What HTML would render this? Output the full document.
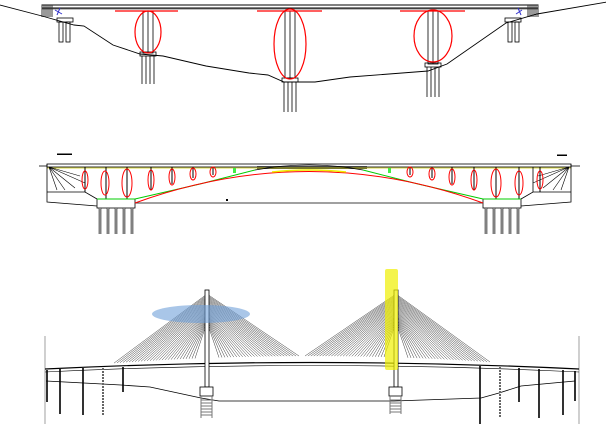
<!DOCTYPE html>
<html><head><meta charset="utf-8"><style>html,body{margin:0;padding:0;background:#fff}svg{display:block}</style></head>
<body>
<svg id="s" width="606" height="431" viewBox="0 0 606 431" xmlns="http://www.w3.org/2000/svg" fill="none" stroke="#000" stroke-width="0.8">
<!-- TOP BRIDGE -->
<g>
<rect x="42" y="5" width="496" height="3" fill="#fff" stroke-width="1"/>
<line x1="42" y1="9" x2="538" y2="9" stroke-width="0.6"/>
<path d="M42 5v12M44 5v12M46 5v12M48 5v12M50 5v12M52 5v12M528 5v12M530 5v12M532 5v12M534 5v12M536 5v12M538 5v12" stroke="#333" stroke-width="1"/>
<rect x="57" y="18" width="16" height="4"/><rect x="505" y="18" width="16" height="4"/>
<rect x="59" y="22" width="4" height="20"/><rect x="66" y="22" width="4" height="20"/>
<rect x="508" y="22" width="4" height="20"/><rect x="515" y="22" width="4" height="20"/>
<path d="M55 10 L62 14 M60 8 L57 15" stroke="#33c" stroke-width="1"/>
<path d="M522 10 L516 14 M518 8 L521 15" stroke="#33c" stroke-width="1"/>
<polyline points="0,5 42,16 74,25 84,26 113,45 140,54 163,56 206,66 249,73 268,75 284,82 315,82 350,77 428,71 447,64 506,23 537,14 607,2" stroke-width="0.9"/>
<rect x="143" y="11" width="10" height="42"/><line x1="148" y1="11" x2="148" y2="53"/>
<rect x="140" y="52" width="16" height="4"/>
<path d="M142 56v28M146 56v28M150 56v28M154 56v28"/>
<rect x="285" y="11" width="10" height="67"/><line x1="290" y1="11" x2="290" y2="78"/>
<rect x="282" y="78" width="16" height="4"/>
<path d="M284 82v30M288 82v30M292 82v30M296 82v30"/>
<rect x="428" y="11" width="10" height="53"/><line x1="433" y1="11" x2="433" y2="64"/>
<rect x="425" y="63" width="16" height="4"/>
<path d="M427 67v30M431 67v30M435 67v30M439 67v30"/>
<g stroke="red" stroke-width="1.2">
<line x1="115" y1="11" x2="178" y2="11"/><line x1="257" y1="11" x2="322" y2="11"/><line x1="400" y1="11" x2="465" y2="11"/>
<ellipse cx="148" cy="32" rx="13" ry="21"/>
<ellipse cx="290" cy="44" rx="16" ry="35"/>
<ellipse cx="433" cy="36" rx="19" ry="26"/>
</g>
</g>
<!-- MIDDLE BRIDGE -->
<g>
<text x="57" y="155" font-family="Liberation Sans, sans-serif" font-size="5" fill="#000" stroke="none" font-weight="bold">▬▬▬</text>
<text x="557" y="156" font-family="Liberation Sans, sans-serif" font-size="5" fill="#000" stroke="none" font-weight="bold">▬▬</text>
<line x1="39" y1="166" x2="47" y2="166"/><line x1="571" y1="166" x2="580" y2="166"/>
<rect x="47" y="164" width="524" height="3" fill="#fff"/>
<rect x="257" y="166" width="110" height="3" fill="#444" stroke="none"/>
<line x1="47" y1="168" x2="571" y2="168" stroke="#cc0" stroke-width="0.8"/>
<path d="M47 164 V202 L97 206 M47 192 H85 L97 199 M85 167 V192"/>
<path d="M571 164 V202 L521 206 M571 192 H533 L521 199 M533 167 V192"/>
<path d="M49 167 L85 183 M49 167 L75 188 M49 167 L65 190 M49 167 L57 190 M49 167 L80 176" stroke-width="0.6"/>
<path d="M569 167 L533 183 M569 167 L543 188 M569 167 L553 190 M569 167 L561 190 M569 167 L538 176" stroke-width="0.6"/>
<rect x="97" y="199" width="38" height="9" fill="#fff"/>
<rect x="483" y="199" width="38" height="9" fill="#fff"/>
<path d="M100 208v26M108 208v26M116 208v26M124 208v26M132 208v26M486 208v26M494 208v26M502 208v26M510 208v26M518 208v26" stroke-width="2.5"/>
<path d="M100 208v26M108 208v26M116 208v26M124 208v26M132 208v26M486 208v26M494 208v26M502 208v26M510 208v26M518 208v26" stroke="#fff" stroke-width="1"/>
<line x1="135" y1="203" x2="483" y2="203"/>
<path d="M85 167V192M106 167V199M127 167V199M151 167V190M172 167V184M193 167V178M213 167V175M410 167V175M432 167V178M452 167V184M474 167V190M496 167V199M519 167V199M540 167V192" stroke-width="1"/>
<polyline points="97,199 135,199 200,184 255,170" stroke="#0c0" stroke-width="1"/>
<polyline points="521,199 483,199 418,184 363,170" stroke="#0c0" stroke-width="1"/>
<path d="M135 203 Q309 140 483 203" stroke="red" stroke-width="1"/>
<path d="M272 172 Q309 168 346 172" stroke="#ee0" stroke-width="1.5"/>
<path d="M255 170 Q309 160 363 170" stroke-width="0.8"/>
<rect x="233" y="168" width="3" height="5" fill="#4e4" stroke="none"/><rect x="388" y="168" width="3" height="5" fill="#4e4" stroke="none"/>
<g stroke="red" stroke-width="1">
<ellipse cx="85" cy="180" rx="3" ry="9"/><ellipse cx="105" cy="183" rx="4" ry="12"/><ellipse cx="127" cy="183" rx="5" ry="14"/>
<ellipse cx="151" cy="180" rx="3" ry="10"/><ellipse cx="172" cy="177" rx="3" ry="8"/><ellipse cx="193" cy="174" rx="3" ry="6"/><ellipse cx="213" cy="172" rx="3" ry="5"/>
<ellipse cx="410" cy="172" rx="3" ry="5"/><ellipse cx="432" cy="174" rx="3" ry="6"/><ellipse cx="452" cy="177" rx="3" ry="8"/><ellipse cx="474" cy="180" rx="3" ry="10"/>
<ellipse cx="496" cy="183" rx="5" ry="14"/><ellipse cx="519" cy="183" rx="4" ry="12"/><ellipse cx="540" cy="180" rx="3" ry="9"/>
</g>
<rect x="226" y="199" width="2" height="2" fill="#000" stroke="none"/>
</g>
<!-- BOTTOM BRIDGE -->
<g>
<line x1="45" y1="336" x2="45" y2="424" stroke="#888"/>
<line x1="579" y1="336" x2="579" y2="424" stroke="#888"/>
<g id="cables" stroke-width="0.45" stroke="#222"></g>
<path d="M45 369 Q310 356 579 369" stroke-width="1.2"/>
<path d="M45 372 Q310 359 579 372" stroke-width="0.6"/>
<polyline points="46,381 121,385 150,387 201,398 219,401 394,401 481,398 499,393 521,386 575,381"/>
<rect x="205" y="290" width="4" height="97" fill="#fff"/>
<rect x="394" y="290" width="4" height="97" fill="#fff"/>
<rect x="200" y="387" width="13" height="9" fill="#fff"/>
<rect x="389" y="387" width="13" height="9" fill="#fff"/>
<path d="M201 396v22M212 396v22M390 396v18M401 396v18" stroke="#777" stroke-width="1"/>
<path d="M201 400h11M201 403h11M201 406h11M201 409h11M201 412h11M201 415h11M390 400h11M390 403h11M390 406h11M390 409h11M390 412h11" stroke="#777" stroke-width="1"/>
<path d="M47 370V402M60 369V414M83 368V415M123 367V392M480 366V424M519 368V402M539 369V418M563 370V415M575 371V401" stroke-width="1.6"/>
<path d="M103 368V415M500 367V418" stroke="#666" stroke-width="2" stroke-dasharray="2 1"/>
<ellipse cx="201" cy="314" rx="49" ry="9" fill="#6fa0d8" fill-opacity="0.6" stroke="none"/>
<rect x="385" y="269" width="13" height="101" rx="2" fill="#f0f000" fill-opacity="0.7" stroke="none"/>
</g>
</svg>
<script>
var g=document.getElementById('cables'),ns='http://www.w3.org/2000/svg';
function L(x1,y1,x2,y2){var l=document.createElementNS(ns,'line');l.setAttribute('x1',x1);l.setAttribute('y1',y1);l.setAttribute('x2',x2);l.setAttribute('y2',y2);g.appendChild(l);}
[[207,114,299],[396,305,490]].forEach(function(p){var n=28;for(var i=0;i<n;i++){var t=i/(n-1),y=294+t*28;
var xl=p[1]+t*(p[0]-12-p[1]);var xr=p[2]-t*(p[2]-p[0]-12);
function dy(x){return 369-13*(1-Math.pow((x-310)/265,2));}
L(p[0],y,xl,dy(xl));L(p[0],y,xr,dy(xr));}});
</script>
</body></html>
